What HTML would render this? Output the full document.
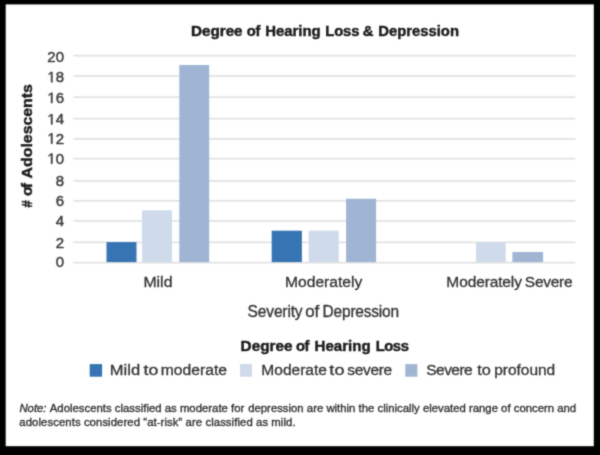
<!DOCTYPE html>
<html>
<head>
<meta charset="utf-8">
<style>
html,body{margin:0;padding:0;background:#000;}
body{width:600px;height:455px;overflow:hidden;position:relative;font-family:"Liberation Sans",sans-serif;}
svg{position:absolute;left:0;top:0;}
svg text{font-family:"Liberation Sans",sans-serif;}
.rg text,.rg path{stroke:currentColor;stroke-width:0.6px;}
.rg path{vector-effect:non-scaling-stroke;}
.note text{stroke-width:0.35px;}
.yl text,.yl path{stroke-width:0.45px;}
text.w{fill:currentColor;stroke:currentColor;}
</style>
</head>
<body>
<svg id="plot" width="600" height="455" viewBox="0 0 600 455">
  <defs><filter id="bl" x="-5%" y="-5%" width="110%" height="110%" color-interpolation-filters="sRGB"><feConvolveMatrix order="3" kernelMatrix="1 4 1 4 16 4 1 4 1" edgeMode="duplicate"/></filter></defs>
  <g filter="url(#bl)">
  <rect x="5.7" y="4.4" width="588.1" height="441.8" fill="#fff"/>
  <!-- gridlines -->
  <g stroke="#e2e2e2" stroke-width="1.8">
    <line x1="73.5" x2="575.4" y1="55.7" y2="55.7"/>
    <line x1="73.5" x2="575.4" y1="75.8" y2="75.8"/>
    <line x1="73.5" x2="575.4" y1="97.1" y2="97.1"/>
    <line x1="73.5" x2="575.4" y1="118.7" y2="118.7"/>
    <line x1="73.5" x2="575.4" y1="138.9" y2="138.9"/>
    <line x1="73.5" x2="575.4" y1="158.7" y2="158.7"/>
    <line x1="73.5" x2="575.4" y1="180.8" y2="180.8"/>
    <line x1="73.5" x2="575.4" y1="200.9" y2="200.9"/>
    <line x1="73.5" x2="575.4" y1="220.8" y2="220.8"/>
    <line x1="73.5" x2="575.4" y1="242.4" y2="242.4"/>
    <line x1="73.5" x2="575.4" y1="262.6" y2="262.6"/>
  </g>
  <!-- bars -->
  <g>
    <rect x="106.5" y="242.1" width="30.0" height="20.00" fill="#3674b4"/>
    <rect x="142.1" y="210.3" width="29.9" height="51.80" fill="#cfdaea"/>
    <rect x="179.3" y="65.0" width="29.9" height="197.10" fill="#a0b4d3"/>
    <rect x="271.7" y="230.7" width="30.2" height="31.40" fill="#3674b4"/>
    <rect x="308.7" y="230.7" width="30.0" height="31.40" fill="#cfdaea"/>
    <rect x="346.1" y="198.75" width="30.0" height="63.35" fill="#a0b4d3"/>
    <rect x="476.0" y="242.4" width="29.7" height="19.70" fill="#cfdaea"/>
    <rect x="512.4" y="252.0" width="30.7" height="10.10" fill="#a0b4d3"/>
  </g>
  <!-- y labels -->
  <g class="rg yl" font-size="15" style="color:#3c3c3c" fill="currentColor" text-anchor="end">
    <text x="64" y="61.65" transform="matrix(1,0,0,1.0,0,0)">20</text>
    <text x="64" y="82.25" transform="matrix(1,0,0,1.0,0,0)">8</text>
    <path transform="matrix(1,0,0,1.0,0,0) translate(47.315,82.25) scale(0.007324,-0.007324)" d="M515 0H696V1409H530L197 1180V1010L515 1237Z"/>
    <text x="64" y="103.10" transform="matrix(1,0,0,1.0,0,0)">6</text>
    <path transform="matrix(1,0,0,1.0,0,0) translate(47.315,103.10) scale(0.007324,-0.007324)" d="M515 0H696V1409H530L197 1180V1010L515 1237Z"/>
    <text x="64" y="124.45" transform="matrix(1,0,0,1.0,0,0)">4</text>
    <path transform="matrix(1,0,0,1.0,0,0) translate(47.315,124.45) scale(0.007324,-0.007324)" d="M515 0H696V1409H530L197 1180V1010L515 1237Z"/>
    <text x="64" y="143.65" transform="matrix(1,0,0,1.0,0,0)">2</text>
    <path transform="matrix(1,0,0,1.0,0,0) translate(47.315,143.65) scale(0.007324,-0.007324)" d="M515 0H696V1409H530L197 1180V1010L515 1237Z"/>
    <text x="64" y="163.80" transform="matrix(1,0,0,1.0,0,0)">0</text>
    <path transform="matrix(1,0,0,1.0,0,0) translate(47.315,163.80) scale(0.007324,-0.007324)" d="M515 0H696V1409H530L197 1180V1010L515 1237Z"/>
    <text x="64" y="185.55" transform="matrix(1,0,0,1.0,0,0)">8</text>
    <text x="64" y="205.55" transform="matrix(1,0,0,1.0,0,0)">6</text>
    <text x="64" y="226.20" transform="matrix(1,0,0,1.0,0,0)">4</text>
    <text x="64" y="248.35" transform="matrix(1,0,0,1.0,0,0)">2</text>
    <text x="64" y="267.45" transform="matrix(1,0,0,1.0,0,0)">0</text>
  </g>
  <!-- y axis title -->
  <g transform="translate(31.8,220) rotate(-90) scale(1,1.0)" style="color:#1c1c1c" fill="currentColor" stroke="currentColor" stroke-width="0.45" font-size="15.4" font-weight="bold">
    <text x="12.53" y="0" textLength="7.19" lengthAdjust="spacingAndGlyphs">#</text>
    <text x="24.09" y="0" textLength="12.81" lengthAdjust="spacing">of</text>
    <text x="41.63" y="0" textLength="94.21" lengthAdjust="spacingAndGlyphs">Adolescents</text>
  </g>
  <!-- legend -->
  <rect x="89.7" y="364.1" width="12.4" height="12.6" fill="#3674b4"/>
  <rect x="240" y="364.1" width="12" height="12.6" fill="#cfdaea"/>
  <rect x="405.3" y="364.1" width="12.1" height="12.6" fill="#a0b4d3"/>
  <!-- words -->
  <text class="w" x="190.93" y="36.1" font-size="14.8" font-weight="bold" style="color:#1c1c1c;stroke-width:0.45px" textLength="51.67" lengthAdjust="spacingAndGlyphs">Degree</text>
  <text class="w" x="246.74" y="36.1" font-size="14.8" font-weight="bold" style="color:#1c1c1c;stroke-width:0.45px" textLength="13.77" lengthAdjust="spacing">of</text>
  <text class="w" x="265.17" y="36.1" font-size="14.8" font-weight="bold" style="color:#1c1c1c;stroke-width:0.45px" textLength="55.51" lengthAdjust="spacingAndGlyphs">Hearing</text>
  <text class="w" x="325.27" y="36.1" font-size="14.8" font-weight="bold" style="color:#1c1c1c;stroke-width:0.45px" textLength="34.19" lengthAdjust="spacing">Loss</text>
  <text class="w" x="362.66" y="36.1" font-size="14.8" font-weight="bold" style="color:#1c1c1c;stroke-width:0.45px">&amp;</text>
  <text class="w" x="378.27" y="36.1" font-size="14.8" font-weight="bold" style="color:#1c1c1c;stroke-width:0.45px" textLength="80.71" lengthAdjust="spacingAndGlyphs">Depression</text>
  <text class="w" x="240.63" y="350.6" font-size="14.8" font-weight="bold" style="color:#1c1c1c;stroke-width:0.45px" textLength="51.82" lengthAdjust="spacingAndGlyphs">Degree</text>
  <text class="w" x="296.04" y="350.6" font-size="14.8" font-weight="bold" style="color:#1c1c1c;stroke-width:0.45px" textLength="13.48" lengthAdjust="spacing">of</text>
  <text class="w" x="314.55" y="350.6" font-size="14.8" font-weight="bold" style="color:#1c1c1c;stroke-width:0.45px" textLength="56.14" lengthAdjust="spacingAndGlyphs">Hearing</text>
  <text class="w" x="375.67" y="350.6" font-size="14.8" font-weight="bold" style="color:#1c1c1c;stroke-width:0.45px" textLength="33.19" lengthAdjust="spacing">Loss</text>
  <text class="w" x="143.42" y="287.3" font-size="15.5" style="color:#333;stroke-width:0.3px" textLength="29.05" lengthAdjust="spacingAndGlyphs">Mild</text>
  <text class="w" x="285.04" y="287.3" font-size="15.5" style="color:#333;stroke-width:0.3px" textLength="77.26" lengthAdjust="spacingAndGlyphs">Moderately</text>
  <text class="w" x="446.34" y="287.3" font-size="15.5" style="color:#333;stroke-width:0.3px" textLength="75.59" lengthAdjust="spacing">Moderately</text>
  <text class="w" x="524.86" y="287.3" font-size="15.5" style="color:#333;stroke-width:0.3px" textLength="47.78" lengthAdjust="spacing">Severe</text>
  <text class="w" x="247.61" y="317.0" font-size="15.5" style="color:#333;stroke-width:0.3px" textLength="55.0" lengthAdjust="spacing" transform="matrix(1,0,0,1.05,0,-15.850)">Severity</text>
  <text class="w" x="305.17" y="317.0" font-size="15.5" style="color:#333;stroke-width:0.3px" textLength="14.11" lengthAdjust="spacingAndGlyphs" transform="matrix(1,0,0,1.05,0,-15.850)">of</text>
  <text class="w" x="322.62" y="317.0" font-size="15.5" style="color:#333;stroke-width:0.3px" textLength="76.42" lengthAdjust="spacing" transform="matrix(1,0,0,1.05,0,-15.850)">Depression</text>
  <text class="w" x="109.8" y="375.0" font-size="15.5" style="color:#333;stroke-width:0.3px" textLength="30.26" lengthAdjust="spacingAndGlyphs">Mild</text>
  <text class="w" x="143.64" y="375.0" font-size="15.5" style="color:#333;stroke-width:0.3px" textLength="14.83" lengthAdjust="spacingAndGlyphs">to</text>
  <text class="w" x="160.71" y="375.0" font-size="15.5" style="color:#333;stroke-width:0.3px" textLength="66.28" lengthAdjust="spacingAndGlyphs">moderate</text>
  <text class="w" x="261.34" y="375.0" font-size="15.5" style="color:#333;stroke-width:0.3px" textLength="65.6" lengthAdjust="spacingAndGlyphs">Moderate</text>
  <text class="w" x="329.39" y="375.0" font-size="15.5" style="color:#333;stroke-width:0.3px" textLength="15.06" lengthAdjust="spacingAndGlyphs">to</text>
  <text class="w" x="347.28" y="375.0" font-size="15.5" style="color:#333;stroke-width:0.3px" textLength="44.89" lengthAdjust="spacing">severe</text>
  <text class="w" x="426.36" y="375.0" font-size="15.5" style="color:#333;stroke-width:0.3px" textLength="46.24" lengthAdjust="spacing">Severe</text>
  <text class="w" x="477.15" y="375.0" font-size="15.5" style="color:#333;stroke-width:0.3px" textLength="13.61" lengthAdjust="spacingAndGlyphs">to</text>
  <text class="w" x="494.27" y="375.0" font-size="15.5" style="color:#333;stroke-width:0.3px" textLength="60.96" lengthAdjust="spacing">profound</text>

  <!-- note -->
  <g class="rg note" font-size="11.35" style="color:#333" fill="currentColor">
    <text x="19.41" y="411.6" font-style="italic">Note:</text>
    <text x="49.73" y="411.6" textLength="194.59" lengthAdjust="spacing">Adolescents classified as moderate for</text>
    <text x="248.19" y="411.6" textLength="327.95" lengthAdjust="spacing">depression are within the clinically elevated range of concern and</text>
    <text x="19.35" y="426" textLength="276.24" lengthAdjust="spacing">adolescents considered “at-risk” are classified as mild.</text>
  </g>
</g>
</svg>
</body>
</html>
